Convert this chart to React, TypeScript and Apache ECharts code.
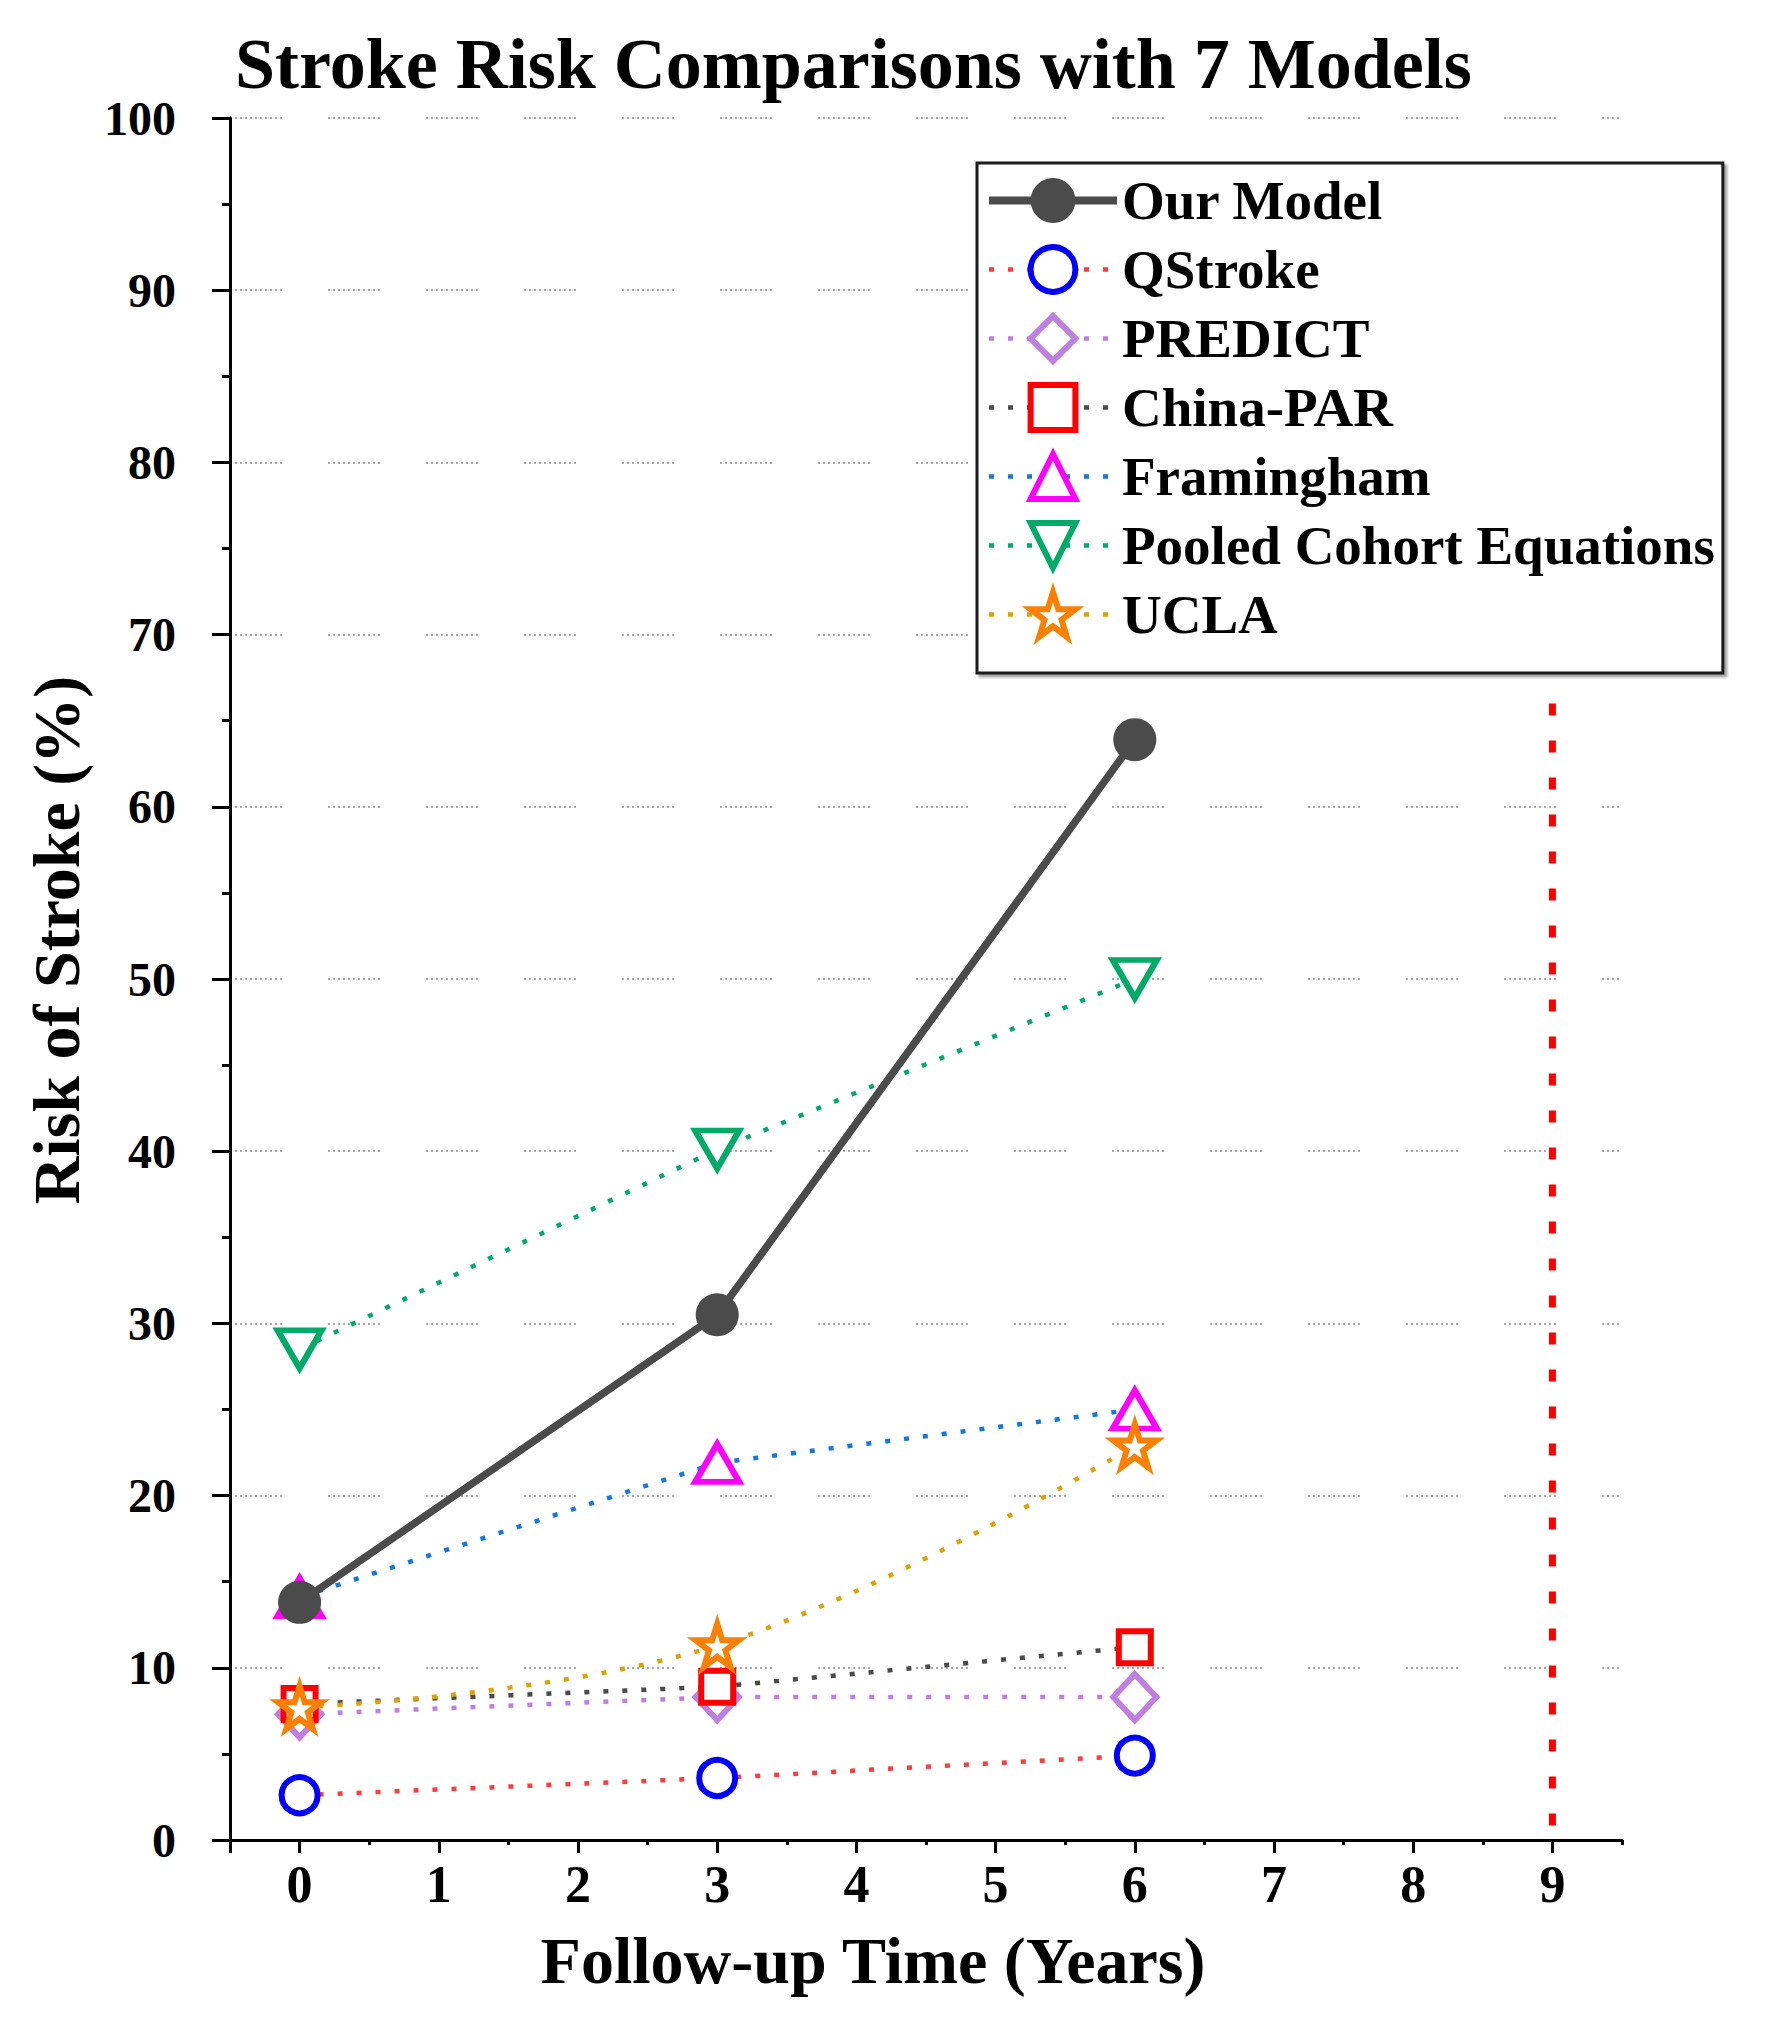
import React, { useEffect, useRef } from "react";
import * as echarts from "echarts";

const TITLE = "Stroke Risk Comparisons with 7 Models";
const X_TITLE = "Follow-up Time (Years)";
const Y_TITLE = "Risk of Stroke (%)";

const YEARS = [0, 3, 6];
const OUR_MODEL = [13.8, 30.5, 63.9];
const QSTROKE = [2.6, 3.6, 4.9];
const PREDICT = [7.3, 8.3, 8.3];
const CHINA_PAR = [7.9, 8.9, 11.2];
const FRAMINGHAM = [14.1, 21.9, 25.0];
const POOLED = [28.5, 40.1, 50.0];
const UCLA = [7.7, 11.3, 22.9];

const X_LABELS = [0, 1, 2, 3, 4, 5, 6, 7, 8, 9];
const X_MAJOR_TICKS = [-0.5, 0, 1, 2, 3, 4, 5, 6, 7, 8, 9];
const X_MINOR_TICKS = [0.5, 1.5, 2.5, 3.5, 4.5, 5.5, 6.5, 7.5, 8.5, 9.5];
const VLINE = [
  [9, 66],
  [9, 0],
];

const FONT = "'Liberation Serif', 'Times New Roman', serif";
const STAR =
  "path://M0,-1L0.2245,-0.309L0.951,-0.309L0.363,0.118L0.588,0.809L0,0.382L-0.588,0.809L-0.363,0.118L-0.951,-0.309L-0.2245,-0.309Z";

const GRID_DASH: number[] = [];
for (let i = 0; i < 11; i++) GRID_DASH.push(2, i === 10 ? 46 : 3);

const DOT = [5, 14];

function pts(ys: number[]) {
  return YEARS.map((x, i) => [x, ys[i]]);
}

export default function App() {
  const ref = useRef<HTMLDivElement>(null);
  useEffect(() => {
    if (!ref.current) return;
    const chart = echarts.init(ref.current, null, { renderer: "svg" });
    const hollow = (
      name: string,
      ys: number[],
      lineColor: string,
      markColor: string,
      symbol: string,
      size: any,
      rotate = 0,
      smooth: any = false
    ) => ({
      name,
      type: "line",
      data: pts(ys),
      symbol,
      symbolSize: size,
      symbolRotate: rotate,
      smooth,
      lineStyle: { color: lineColor, width: 4.5, type: DOT, cap: "butt" },
      itemStyle: { color: "#ffffff", borderColor: markColor, borderWidth: 6 },
      z: 2,
    });
    const series: any[] = [
      {
        name: "vline",
        type: "line",
        data: VLINE,
        symbol: "none",
        silent: true,
        lineStyle: { color: "#ff0000", width: 7, type: [12, 25] },
        z: 1,
      },
      hollow("QStroke", QSTROKE, "#ff3b3b", "#0000ff", "circle", 36),
      hollow("PREDICT", PREDICT, "#c07fe0", "#c07fe0", "diamond", [43, 46]),
      hollow("China-PAR", CHINA_PAR, "#4a4a4a", "#ff0000", "rect", 32),
      hollow("Framingham", FRAMINGHAM, "#1478e0", "#ff00ff", "triangle", [44, 38]),
      hollow("Pooled Cohort Equations", POOLED, "#00ab68", "#00ab68", "triangle", [44, 38], 180),
      hollow("UCLA", UCLA, "#e0a000", "#ff8000", STAR, 43, 0, 0.4),
      {
        name: "Our Model",
        type: "line",
        data: pts(OUR_MODEL),
        symbol: "circle",
        symbolSize: 43,
        lineStyle: { color: "#4b4b4b", width: 7.5 },
        itemStyle: { color: "#4b4b4b" },
        z: 5,
      },
    ];
    const legendNames = [
      "Our Model",
      "QStroke",
      "PREDICT",
      "China-PAR",
      "Framingham",
      "Pooled Cohort Equations",
      "UCLA",
    ];
    const axisStyle = { color: "#000", width: 3 };
    chart.setOption({
      animation: false,
      backgroundColor: "#ffffff",
      title: {
        text: TITLE,
        left: 235,
        top: 28,
        padding: 0,
        textStyle: { fontFamily: FONT, fontWeight: "bold", fontSize: 72, color: "#000" },
      },
      grid: { left: 230, top: 118, width: 1392, height: 1722 },
      legend: {
        orient: "vertical",
        left: 977,
        top: 163,
        padding: [10, 8, 31, 8],
        itemWidth: 128,
        itemHeight: 56,
        itemGap: 14,
        selectedMode: false,
        backgroundColor: "#fff",
        borderColor: "#1a1a1a",
        borderWidth: 3,
        shadowColor: "rgba(0,0,0,0.35)",
        shadowOffsetX: 3,
        shadowOffsetY: 3,
        shadowBlur: 2,
        textStyle: {
          fontFamily: FONT,
          fontWeight: "bold",
          fontSize: 55,
          color: "#000",
        },
        data: legendNames.map((n) =>
          n === "Our Model"
            ? { name: n, lineStyle: { width: 8 }, itemStyle: { borderWidth: 0 } }
            : { name: n, lineStyle: { width: 4.5 }, itemStyle: { borderWidth: 6 } }
        ),
      },
      xAxis: [
        {
          type: "value",
          min: -0.5,
          max: 9.5,
          interval: 0.5,
          position: "bottom",
          axisLine: { show: true, onZero: false, lineStyle: axisStyle },
          axisTick: { show: true, customValues: X_MAJOR_TICKS, length: 13, lineStyle: axisStyle },
          axisLabel: {
            customValues: X_LABELS,
            formatter: (v: number) => (Number.isInteger(v) ? String(v) : ""),
            fontFamily: FONT,
            fontWeight: "bold",
            fontSize: 52,
            color: "#000",
            margin: 18,
          },
          splitLine: { show: false },
        },
        {
          type: "value",
          min: -0.5,
          max: 9.5,
          interval: 0.5,
          position: "bottom",
          axisLine: { show: false, onZero: false },
          axisTick: { show: true, customValues: X_MINOR_TICKS, length: 5, lineStyle: axisStyle },
          axisLabel: { show: false },
          splitLine: { show: false },
        },
      ],
      yAxis: {
        type: "value",
        min: 0,
        max: 100,
        interval: 10,
        axisLine: { show: true, onZero: false, lineStyle: axisStyle },
        axisTick: { show: true, length: 18, lineStyle: axisStyle },
        minorTick: { show: true, splitNumber: 2, length: 8, lineStyle: axisStyle },
        axisLabel: {
          fontFamily: FONT,
          fontWeight: "bold",
          fontSize: 48,
          color: "#000",
          margin: 54,
        },
        splitLine: { show: true, lineStyle: { color: "#aaaaaa", width: 2, type: GRID_DASH } },
      },
      graphic: [
        {
          type: "text",
          x: 873,
          y: 1960,
          style: {
            text: X_TITLE,
            fontFamily: FONT,
            fontWeight: "bold",
            fontSize: 66,
            fill: "#000",
            align: "center",
            verticalAlign: "middle",
          },
        },
        {
          type: "text",
          x: 56,
          y: 940,
          rotation: Math.PI / 2,
          style: {
            text: Y_TITLE,
            fontFamily: FONT,
            fontWeight: "bold",
            fontSize: 66,
            fill: "#000",
            align: "center",
            verticalAlign: "middle",
          },
        },
      ],
      series,
    });
    return () => chart.dispose();
  }, []);
  return (
    <div
      ref={ref}
      style={{ position: "fixed", left: 0, top: 0, width: 1770, height: 2025, background: "#fff" }}
    />
  );
}
